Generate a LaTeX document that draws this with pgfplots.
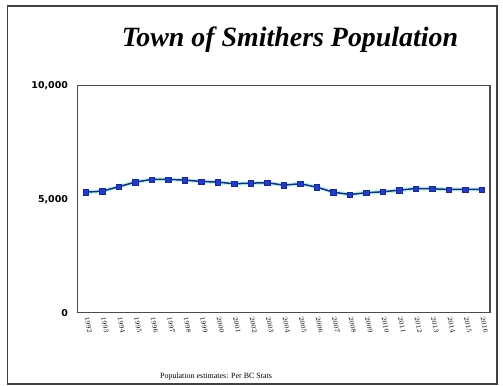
\documentclass[border=0pt]{standalone}
\usepackage{fontspec}
\setmainfont{Liberation Serif}
\newfontfamily\tickfont{DejaVu Sans}
\newfontfamily\yearfont{Liberation Sans}
\usepackage{pgfplots}
\pgfplotsset{compat=1.18}
\usepackage{pgfplotstable}

\definecolor{linedark}{RGB}{20,50,120}
\definecolor{markblue}{RGB}{35,60,200}
\definecolor{halo}{RGB}{150,230,235}

\pgfplotstableread{
year pop
1992 5310
1993 5354
1994 5549
1995 5752
1996 5872
1997 5872
1998 5841
1999 5783
2000 5752
2001 5681
2002 5708
2003 5726
2004 5619
2005 5681
2006 5531
2007 5310
2008 5208
2009 5283
2010 5327
2011 5398
2012 5473
2013 5460
2014 5429
2015 5429
2016 5429
}\popdata

\begin{document}
\begin{tikzpicture}[x=1bp,y=1bp]
\useasboundingbox (0,0) rectangle (503,385);
% outer frame
\draw[black!75, line width=1.1bp] (7.5,1) rectangle (497,379);
% title
\node[font=\fontsize{28}{31}\selectfont\bfseries\itshape] at (290,345) {Town of Smithers Population};
% source note
\node[font=\fontsize{8}{9}\selectfont] at (216,8) {Population estimates: Per BC Stats};
\begin{axis}[
  at={(77.5bp,72.3bp)}, anchor=south west,
  scale only axis,
  width=412.5bp, height=227bp,
  xmin=1991.5, xmax=2016.5,
  ymin=0, ymax=10000,
  scaled y ticks=false,
  axis line style={black!70, line width=1.1bp},
  ytick={0,5000,10000},
  yticklabels={0,{5,000},{10,000}},
  yticklabel style={font=\tickfont\bfseries\fontsize{9.5}{10}\selectfont, xshift=-6bp},
  xtick={1992,1993,...,2016},
  xticklabel style={font=\yearfont\fontsize{7.5}{8}\selectfont, rotate=-78, anchor=west, inner sep=0.5bp, xshift=4bp},
  xticklabel={\pgfmathprintnumber[1000 sep={}]{\tick}},
  major tick length=0pt,
  clip=false,
]
\addplot[halo, line width=4bp, opacity=0.6] table[x=year,y=pop] {\popdata};
\addplot[linedark, line width=1.5bp, mark=square*, mark size=2.6bp,
  mark options={fill=markblue, draw=markblue!70!black, line width=0.4bp}] table[x=year,y=pop] {\popdata};
\end{axis}
\end{tikzpicture}
\end{document}
